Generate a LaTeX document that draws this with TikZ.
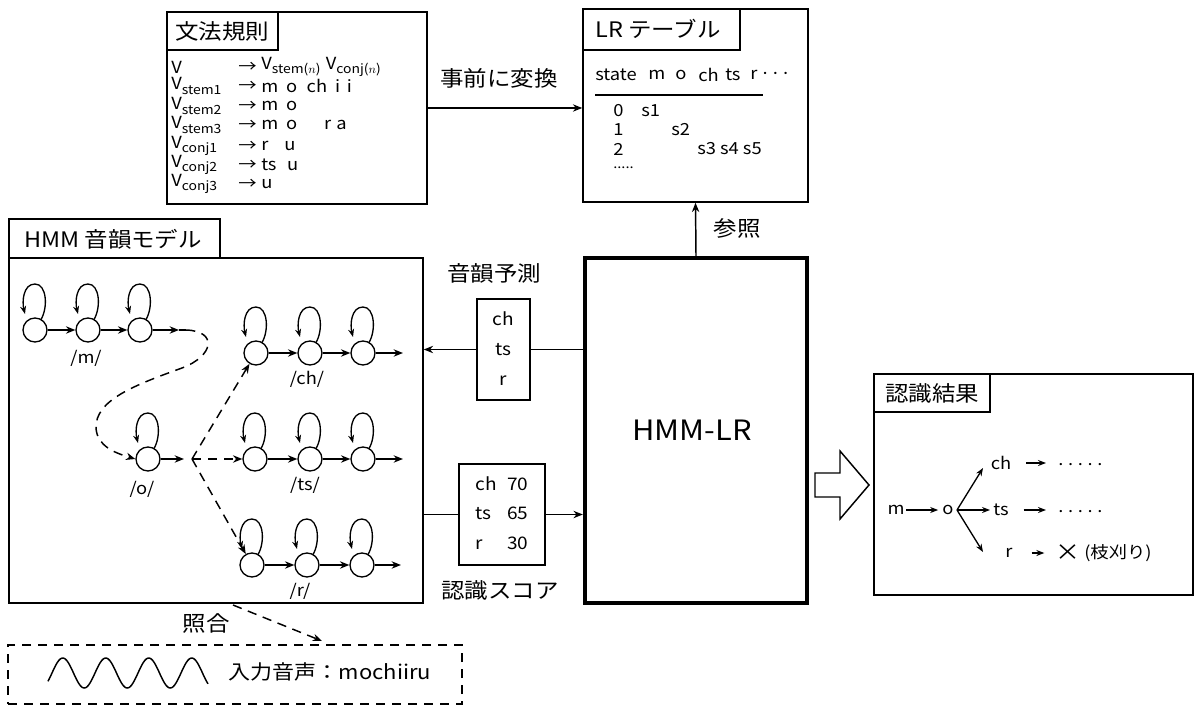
\documentclass[tikz,border=0pt]{standalone}
\usepackage{fontspec}
\setmainfont{Noto Sans CJK JP}[FakeStretch=1.1]
\usetikzlibrary{arrows.meta,calc,fit}
\newcommand{\vsub}[1]{V\raisebox{-0.45ex}{\fontsize{9.5}{10}\selectfont #1}}
\newcommand{\fivedots}{.\hspace{3.5pt}.\hspace{3.5pt}.\hspace{3.5pt}.\hspace{3.5pt}.}
\begin{document}
\begin{tikzpicture}[x=0.75pt,y=-0.75pt,
  ln/.style={line width=1.1pt},
  box/.style={draw,line width=1.1pt,inner sep=0pt},
  arr/.style={line width=1.1pt,-{Stealth[length=7pt,width=5.5pt]}},
  sarr/.style={line width=1pt,-{Stealth[length=6pt,width=4.5pt]}},
  dsh/.style={dash pattern=on 7pt off 5pt},
  st/.style={circle,draw,line width=1pt,minimum size=18pt,inner sep=0pt},
  lbl/.style={font=\fontsize{16}{18}\selectfont,inner sep=0pt},
  txt/.style={font=\fontsize{12.5}{14}\selectfont,inner sep=0pt},
  gtx/.style={font=\fontsize{12.5}{14}\selectfont,inner sep=0pt,anchor=west},
]
\useasboundingbox (0,0) rectangle (1201,706);

% ---------- grammar box ----------
\node[box,fit={(167,12)(427,204)}] (gram) {};
\node[box,fit={(167,12)(278,50)}] (gramtab) {};
\node[lbl] (gramt) at (222,31) {文法規則};
\node[gtx] (g1l) at (171,67) {V};
\node[gtx] (g1a) at (238,67) {→};
\node[gtx] (g1r) at (261,67) {\vsub{stem($n$)}\hspace{4pt}\vsub{conj($n$)}};
\node[gtx] (g2l) at (171,86) {\vsub{stem1}};
\node[gtx] (g2a) at (238,86) {→};
\node[gtx] (g2r) at (261,86) {m\hspace{6pt}o\hspace{7pt}ch\hspace{6pt}i\hspace{5pt}i};
\node[gtx] (g3l) at (171,106) {\vsub{stem2}};
\node[gtx] (g3a) at (238,106) {→};
\node[gtx] (g3r) at (261,106) {m\hspace{6pt}o};
\node[gtx] (g4l) at (171,125) {\vsub{stem3}};
\node[gtx] (g4a) at (238,125) {→};
\node[gtx] (g4r) at (261,125) {m\hspace{6pt}o\hspace{20pt}r\hspace{4pt}a};
\node[gtx] (g5l) at (171,146) {\vsub{conj1}};
\node[gtx] (g5a) at (238,146) {→};
\node[gtx] (g5r) at (261,146) {r\hspace{12pt}u};
\node[gtx] (g6l) at (171,165) {\vsub{conj2}};
\node[gtx] (g6a) at (238,165) {→};
\node[gtx] (g6r) at (261,165) {ts\hspace{8pt}u};
\node[gtx] (g7l) at (171,184) {\vsub{conj3}};
\node[gtx] (g7a) at (238,184) {→};
\node[gtx] (g7r) at (261,184) {u};

% ---------- LR table ----------
\node[box,fit={(583,9)(808,202)}] (lr) {};
\node[box,fit={(583,9)(740,50)}] (lrtab) {};
\node[lbl,anchor=west] (lrt) at (595,29) {LR テーブル};
\node[gtx] (h1) at (595,75) {state};
\node[gtx] (h2) at (648,75) {m};
\node[gtx] (h3) at (675,75) {o};
\node[gtx] (h4) at (698,75) {ch};
\node[gtx] (h5) at (725,75) {ts};
\node[gtx] (h6) at (750,75) {r\,···};
\draw[ln] (595,95) -- (763,95);
\node[gtx] (r0) at (613,111) {0};
\node[gtx] (r0s) at (641,111) {s1};
\node[gtx] (r1) at (613,130) {1};
\node[gtx] (r1s) at (671,130) {s2};
\node[gtx] (r2) at (613,149) {2};
\node[gtx] (r2s) at (697,149) {s3 s4 s5};
\node[gtx,font=\fontsize{10}{12}\selectfont] (r3) at (613,168) {.....};

\draw[arr] (gram.east) -- (gram.east -| lr.west);
\node[lbl] (conv) at (499,78) {事前に変換};

% ---------- HMM model ----------
\node[box,fit={(9,258)(423,603)}] (hmm) {};
\node[box,fit={(9,219)(220,258)}] (hmmtab) {};
\node[lbl] (hmmt) at (113,239) {HMM 音韻モデル};

\node[st] (m1) at (35,330) {};
\node[st] (m2) at (88,330) {};
\node[st] (m3) at (140,330) {};
\node[st] (c1) at (256,353) {};
\node[st] (c2) at (310,353) {};
\node[st] (c3) at (363,353) {};
\node[st] (o1) at (148,459) {};
\node[st] (t1) at (255,459) {};
\node[st] (t2) at (310,459) {};
\node[st] (t3) at (363,459) {};
\node[st] (q1) at (252,565) {};
\node[st] (q2) at (307,565) {};
\node[st] (q3) at (362,565) {};

\foreach \n in {m1,m2,m3,c1,c2,c3,o1,t1,t2,t3,q1,q2,q3}
  \draw[sarr] ($(\n)+(6,-10.5)$) .. controls ($(\n)+(13,-22)$) and ($(\n)+(12,-46)$) .. ($(\n)+(0,-46)$)
     .. controls ($(\n)+(-12,-46)$) and ($(\n)+(-13,-28)$) .. ($(\n)+(-10,-16)$);

\draw[arr] (m1) -- (m2);
\draw[arr] (m2) -- (m3);
\draw[arr] (c1) -- (c2);
\draw[arr] (c2) -- (c3);
\draw[arr] (t1) -- (t2);
\draw[arr] (t2) -- (t3);
\draw[arr] (q1) -- (q2);
\draw[arr] (q2) -- (q3);
\draw[arr] (c3) -- ++(40,0);
\draw[arr] (t3) -- ++(40,0);
\draw[arr] (q3) -- ++(39,0);

\coordinate (mout) at (179,330);
\coordinate (mend) at (186,330);
\draw[arr] (m3) -- (mout);
\draw[ln] (mout) -- (mend);
\draw[arr,dsh] (mend) .. controls (218,331) and (214,356) .. (182,368)
   .. controls (135,385) and (95,400) .. (96,428)
   .. controls (97,446) and (115,453) .. (o1.west);
\coordinate (obr) at (184,459);
\coordinate (ob) at (192,459);
\draw[arr] (o1) -- (obr);
\draw[arr,dsh] (ob) -- (c1);
\draw[arr,dsh] (ob) -- (t1);
\draw[arr,dsh] (ob) -- (q1);

\node[txt] (lm) at (86,358) {/m/};
\node[txt] (lch) at (307,379) {/ch/};
\node[txt] (lo) at (142,489) {/o/};
\node[txt] (lts) at (305,485) {/ts/};
\node[txt] (lr2) at (300,591) {/r/};

% ---------- HMM-LR ----------
\node[draw,line width=3.3pt,inner sep=0pt,fit={(585,258)(807,603)}] (hmmlr) {};
\node[font=\fontsize{21}{24}\selectfont] (hmmlrt) at (692,430) {HMM-LR};
\draw[arr] (hmmlr.north) -- (lr.south);
\node[lbl] (ref) at (737,228) {参照};

% prediction
\node[box,fill=white,fit={(477,299)(530,400)}] (pred) {};
\node[align=center,font=\fontsize{13}{22.5}\selectfont] (predt) at (503,349) {ch\\ts\\r};
\node[lbl] (predl) at (494,273) {音韻予測};
\draw[ln] (hmmlr.west |- pred.east) -- (pred.east);
\draw[arr] (pred.west) -- (pred.west -| hmm.east);

% score
\node[box,fit={(459,464)(545,565)}] (score) {};
\node[font=\fontsize{13}{22}\selectfont] (scoret) at (502,514)
  {\begin{tabular}{@{}l@{\hspace{8pt}}l@{}}ch & 70\\ ts & 65\\ r & 30\end{tabular}};
\node[lbl] (scorel) at (500,590) {認識スコア};
\draw[ln] (hmm.east |- score.west) -- (score.west);
\draw[arr] (score.east) -- (score.east -| hmmlr.west);

% ---------- hollow arrow ----------
\draw[ln,line join=miter] (815,473) -- (840,473) -- (840,451) -- (869,485) -- (840,519) -- (840,497) -- (815,497) -- cycle;

% ---------- result ----------
\node[box,fit={(874,374)(1193,595)}] (res) {};
\node[box,fit={(874,374)(990,412)}] (restab) {};
\node[lbl] (rest) at (932,393) {認識結果};
\node[txt,inner sep=1pt] (tm) at (896,510) {m};
\node[txt,inner sep=1pt] (to) at (948,510) {o};
\node[txt,inner sep=1pt] (tch) at (1001,463) {ch};
\node[txt,inner sep=1pt] (tts) at (1001,510) {ts};
\node[txt,inner sep=1pt] (tr) at (1009,553) {r};
\node[txt,anchor=west] (dch) at (1058,465) {\fivedots};
\node[txt,anchor=west] (dts) at (1058,512) {\fivedots};
\node[font=\fontsize{17}{18}\selectfont,anchor=west,inner sep=0pt] (tx) at (1055,553) {×};
\node[txt,anchor=west] (prune) at (1084,553) {(枝刈り)};
\draw[sarr,shorten >=2pt] (tm) -- (to);
\coordinate (ob2) at (957,510);
\coordinate (tipch) at (983,468);
\coordinate (tipts) at (990,510);
\coordinate (tipr) at (983,552);
\draw[sarr] (ob2) -- (tipch);
\draw[sarr] (ob2) -- (tipts);
\draw[sarr] (ob2) -- (tipr);
\draw[sarr,shorten <=10pt,shorten >=9pt] (tch.east) -- (tch.east -| dch.west);
\draw[sarr,shorten <=10pt,shorten >=9pt] (tts.east) -- (tts.east -| dts.west);
\draw[sarr,shorten <=13pt,shorten >=8pt] (tr.east) -- (tr.east -| tx.west);

% ---------- input speech ----------
\node[draw,dsh,line width=1pt,inner sep=0pt,fit={(8,645)(462,704)}] (inp) {};
\draw[line width=1.1pt] plot[domain=48:208,samples=120,smooth] (\x,{673-15*sin(8.3721*(\x-52))});
\node[font=\fontsize{15}{18}\selectfont,inner sep=0pt] (inpt) at (330,672) {入力音声：mochiiru};
\node[lbl] (match) at (206,623) {照合};
\coordinate (ms) at (233,605);
\coordinate (mt) at (322,641);
\draw[arr,dsh] (ms) -- (mt);
\end{tikzpicture}
\end{document}
